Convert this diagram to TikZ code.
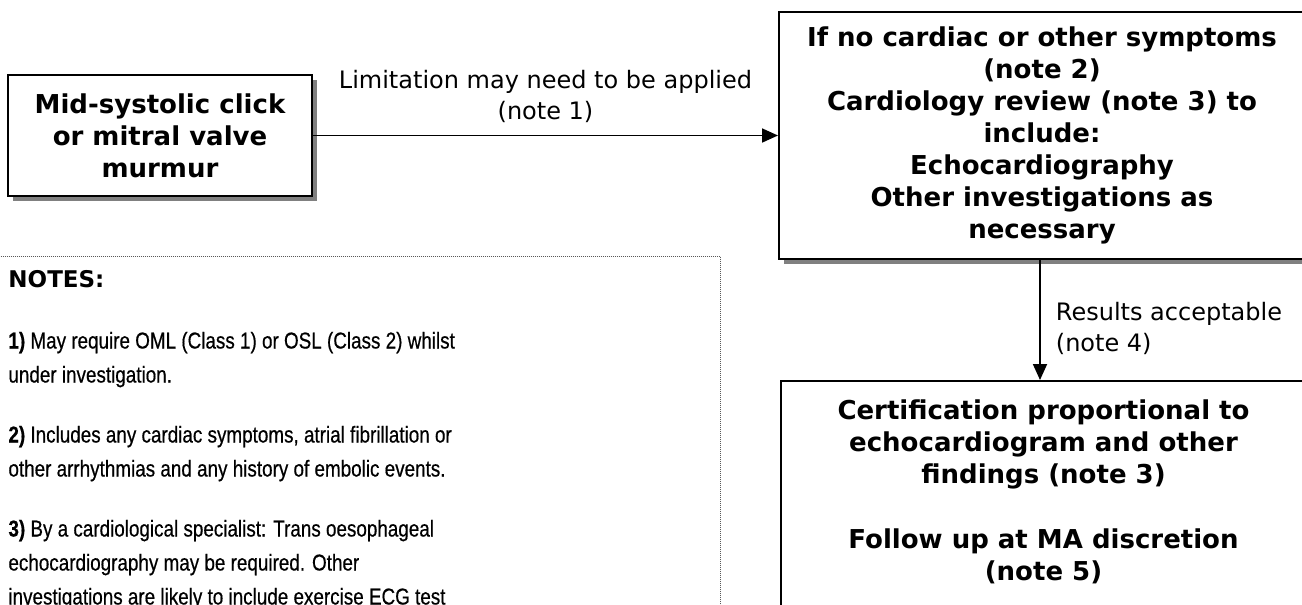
\documentclass[tikz,border=0pt]{standalone}
\usepackage{fontspec}
\setmainfont{DejaVu Sans}
\newfontfamily\notefont[FakeStretch=0.82, FakeBold=0.5]{Liberation Sans}
\usetikzlibrary{arrows.meta,shadows}

\definecolor{shadowgray}{gray}{0.5}
\definecolor{dotgray}{gray}{0.35}

\tikzset{
  flowbox/.style={draw=black, line width=2pt, fill=white, align=center,
    font=\bfseries\fontsize{26}{32}\selectfont,
    drop shadow={shadow xshift=5pt, shadow yshift=-5pt, fill=shadowgray, opacity=1}},
  link/.style={draw=black, line width=1.8pt, -{Triangle[length=16pt,width=14pt]}},
  linklabel/.style={font=\fontsize{24}{31}\selectfont, inner sep=0pt},
  notebox/.style={draw=dotgray, line width=0.9pt, dash pattern=on 1pt off 1pt,
    inner xsep=28pt, inner ysep=14pt},
}
% heading of the notes panel
\newcommand{\notehead}[1]{{\fontsize{23}{34}\selectfont\bfseries #1}}

\begin{document}
\begin{tikzpicture}[x=1pt, y=-1pt]
  \useasboundingbox (0,0) rectangle (1302,605);
  \clip (0,0) rectangle (1302,605);
  \fill[white] (0,0) rectangle (1302,605);

  % notes panel (dotted frame running off the page)
  \node[notebox, anchor=north west] (notes) at (-20,256) {\parbox[c][380pt][t]{684pt}{%
    \fontsize{23}{34}\selectfont\raggedright
    \notehead{NOTES:}\\[27pt]
    \notefont
    \textbf{1)} May require OML (Class 1) or OSL (Class 2) whilst\\
    under investigation.\\[26pt]
    \textbf{2)} Includes any cardiac symptoms, atrial fibrillation or\\
    other arrhythmias and any history of embolic events.\\[26pt]
    \textbf{3)} By a cardiological specialist: Trans oesophageal\\
    echocardiography may be required. Other\\
    investigations are likely to include exercise ECG test}};

  % flow boxes
  \node[flowbox, minimum width=304pt, minimum height=121pt, inner sep=0pt]
    (click) at (160,135.5) {Mid-systolic click\\or mitral valve\\murmur};

  \node[flowbox, minimum width=526pt, minimum height=247pt, inner sep=0pt]
    (review) at (1042,135.5) {If no cardiac or other symptoms\\(note 2)\\Cardiology review (note 3) to\\include:\\Echocardiography\\Other investigations as\\necessary};

  \node[flowbox, anchor=north west, minimum width=525pt, inner xsep=0pt, inner ysep=19pt]
    (cert) at (780,380) {\parbox[c][240pt][t]{480pt}{\centering
      Certification proportional to\\echocardiogram and other\\findings (note 3)\\[32.5pt]
      Follow up at MA discretion\\(note 5)}};

  % connectors
  \draw[link] (click.east) -- (click.east -| review.west)
    node[linklabel, midway, above=12pt, align=center] (limit)
    {Limitation may need to be applied\\(note 1)};

  \draw[link] ([xshift=-2pt]review.south) -- ([xshift=-2pt]review.south |- cert.north)
    node[linklabel, midway, anchor=west, xshift=15pt, yshift=-8pt, align=left] (results)
    {Results acceptable\\(note 4)};
\end{tikzpicture}
\end{document}
